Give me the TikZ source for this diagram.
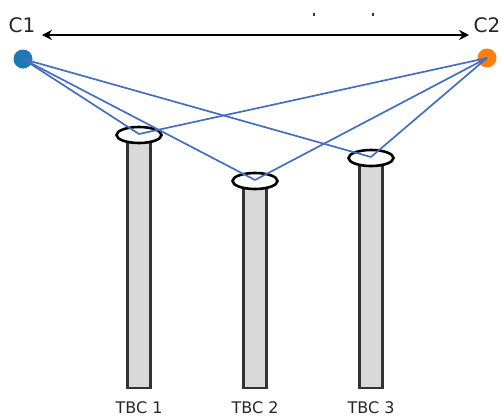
\documentclass[tikz,border=0pt]{standalone}
\usepackage{fontspec}
\setmainfont{DejaVu Sans}
\usetikzlibrary{arrows.meta}
\begin{document}
\begin{tikzpicture}[x=1pt,y=-1pt,
  col/.style={draw=black!80,fill=black!15,line width=2.2pt},
  topcap/.style={draw=black,fill=white,line width=2.6pt},
  ray/.style={draw={rgb,255:red,70;green,110;blue,190},line width=1.7pt},
  lbl/.style={font=\fontsize{16}{16}\selectfont,text=black!85,anchor=base,inner sep=0pt},
  dotlbl/.style={font=\fontsize{20}{20}\selectfont,text=black!85}]
\useasboundingbox (0,0) rectangle (501,416);
% columns
\foreach \n/\x/\y in {1/139/135,2/255/181,3/371/158}{
  \draw[col] (\x-11.5,\y) rectangle (\x+11.5,388);
  \draw[topcap] (\x,\y) ellipse [x radius=22.5, y radius=8];
  \coordinate (t\n) at (\x,\y-1);
  \node[lbl] (l\n) at (\x,413.5) {TBC \n};
}
% points
\node[circle,fill={rgb,255:red,31;green,119;blue,180},minimum size=19pt,inner sep=0pt] (c1) at (23,59) {};
\node[circle,fill={rgb,255:red,255;green,127;blue,14},minimum size=19pt,inner sep=0pt] (c2) at (487,58) {};
\node[dotlbl] (c1l) at (22,25) {C1};
\node[dotlbl] (c2l) at (487,25) {C2};
% rays
\foreach \n in {1,2,3}{
  \draw[ray] (c1.center) -- (t\n);
  \draw[ray] (c2.center) -- (t\n);
}
% arrow
\coordinate (a1) at (42,35);
\coordinate (a2) at (469,35);
\draw[line width=2.6pt,{Stealth[length=10pt,width=10pt,inset=3.5pt]}-{Stealth[length=10pt,width=10pt,inset=3.5pt]}] (a1) -- (a2);
% small marks
\coordinate (m1) at (313,13);
\coordinate (m2) at (372,13);
\fill[black!80] (m1) rectangle ++(1.5,3);
\fill[black!80] (m2) rectangle ++(1.5,3);
\end{tikzpicture}
\end{document}
